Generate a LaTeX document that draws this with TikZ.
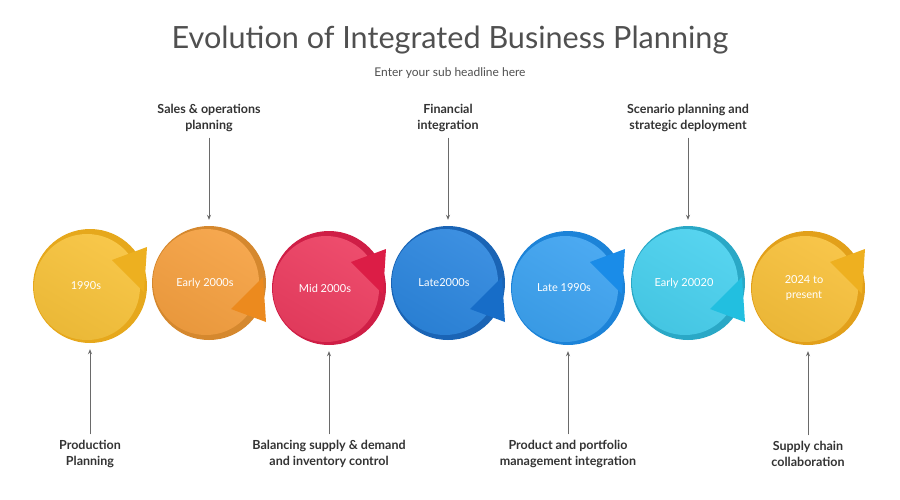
\documentclass[tikz,border=0pt]{standalone}
\usepackage{fontspec}
\setmainfont{Lato}
\usetikzlibrary{arrows.meta}
\definecolor{titlegray}{HTML}{505050}
\definecolor{labgray}{HTML}{333333}
\definecolor{linegray}{HTML}{6A6A6A}
\definecolor{fA}{HTML}{F7C23A}\definecolor{bA}{HTML}{E6A81C}\definecolor{tA}{HTML}{EDB020}
\definecolor{fB}{HTML}{F5A040}\definecolor{bB}{HTML}{D5882E}\definecolor{tB}{HTML}{EC8A1E}
\definecolor{fC}{HTML}{EC3D60}\definecolor{bC}{HTML}{CF1E46}\definecolor{tC}{HTML}{DC1D46}
\definecolor{fD}{HTML}{2C86DE}\definecolor{bD}{HTML}{1A64B5}\definecolor{tD}{HTML}{176DC8}
\definecolor{fE}{HTML}{3CA2F0}\definecolor{bE}{HTML}{1C83D8}\definecolor{tE}{HTML}{1A8CE8}
\definecolor{fF}{HTML}{48D0EE}\definecolor{bF}{HTML}{2AA8C6}\definecolor{tF}{HTML}{22BFE0}
\definecolor{fG}{HTML}{F7C03A}\definecolor{bG}{HTML}{E2A01A}\definecolor{tG}{HTML}{EEB020}
\tikzset{
  lab/.style={align=center, text=labgray, font=\fontsize{12.5}{15.5}\selectfont\bfseries, inner sep=1pt},
  ctext/.style={align=center, text=white, font=\fontsize{11}{15}\selectfont},
  holder/.style={circle, minimum size=114pt, inner sep=0pt},
  conn/.style={draw=linegray, line width=0.7pt, -{Stealth[length=5pt,width=4pt]}},
}
\begin{document}
\begin{tikzpicture}[x=1pt,y=-1pt]
\useasboundingbox[fill=white] (0,0) rectangle (900,499);
\node[text=titlegray, font=\fontsize{30.6}{36}\selectfont] (title) at (450,40) {Evolution of Integrated Business Planning};
\node[text=titlegray, font=\fontsize{12}{14}\selectfont] (sub) at (450,73) {Enter your sub headline here};

% bubbles: index, cx, cy, type (1 = tail up, -1 = tail down), letter, text
\foreach \i/\cx/\cy/\s/\L/\T in {1/90/286/1/A/1990s, 2/209/283/-1/B/Early 2000s, 3/329/288/1/C/Mid 2000s, 4/448/283/-1/D/Late2000s, 5/568/288/1/E/Late 1990s, 6/688/283/-1/F/Early 20020, 7/808/288/1/G/{2024 to\\present}}{
  \fill[b\L] (\cx,\cy) circle[radius=57];
  \shade[top color=f\L!92!white, bottom color=f\L!95!black, shading angle=-30] (\cx-3,\cy+\s*1) circle[radius=53];
  \fill[t\L] (\cx+57,\cy-\s*39) -- (\cx+22,\cy-\s*26) -- (\cx+54,\cy+\s*6) -- cycle;
  \node[holder] (c\i) at (\cx,\cy) {};
  \node[ctext] (n\i) at (\cx-4,\cy) {\T};
}

% labels
\node[lab] (l1) at (90,454) {Production\\Planning};
\node[lab] (l2) at (209,118) {Sales \& operations\\planning};
\node[lab] (l3) at (329,454) {Balancing supply \& demand\\and inventory control};
\node[lab] (l4) at (448,118) {Financial\\integration};
\node[lab] (l5) at (568,454) {Product and portfolio\\management integration};
\node[lab] (l6) at (688,118) {Scenario planning and\\strategic deployment};
\node[lab] (l7) at (808,454) {Supply chain\\collaboration};

\draw[conn, shorten <=5pt, shorten >=6pt] (l2.south) -- (c2.north);
\draw[conn, shorten <=5pt, shorten >=6pt] (l4.south) -- (c4.north);
\draw[conn, shorten <=5pt, shorten >=6pt] (l6.south) -- (c6.north);
\draw[conn, shorten <=5pt, shorten >=6pt] (l1.north) -- (c1.south);
\draw[conn, shorten <=5pt, shorten >=6pt] (l3.north) -- (c3.south);
\draw[conn, shorten <=5pt, shorten >=6pt] (l5.north) -- (c5.south);
\draw[conn, shorten <=5pt, shorten >=6pt] (l7.north) -- (c7.south);
\end{tikzpicture}
\end{document}
